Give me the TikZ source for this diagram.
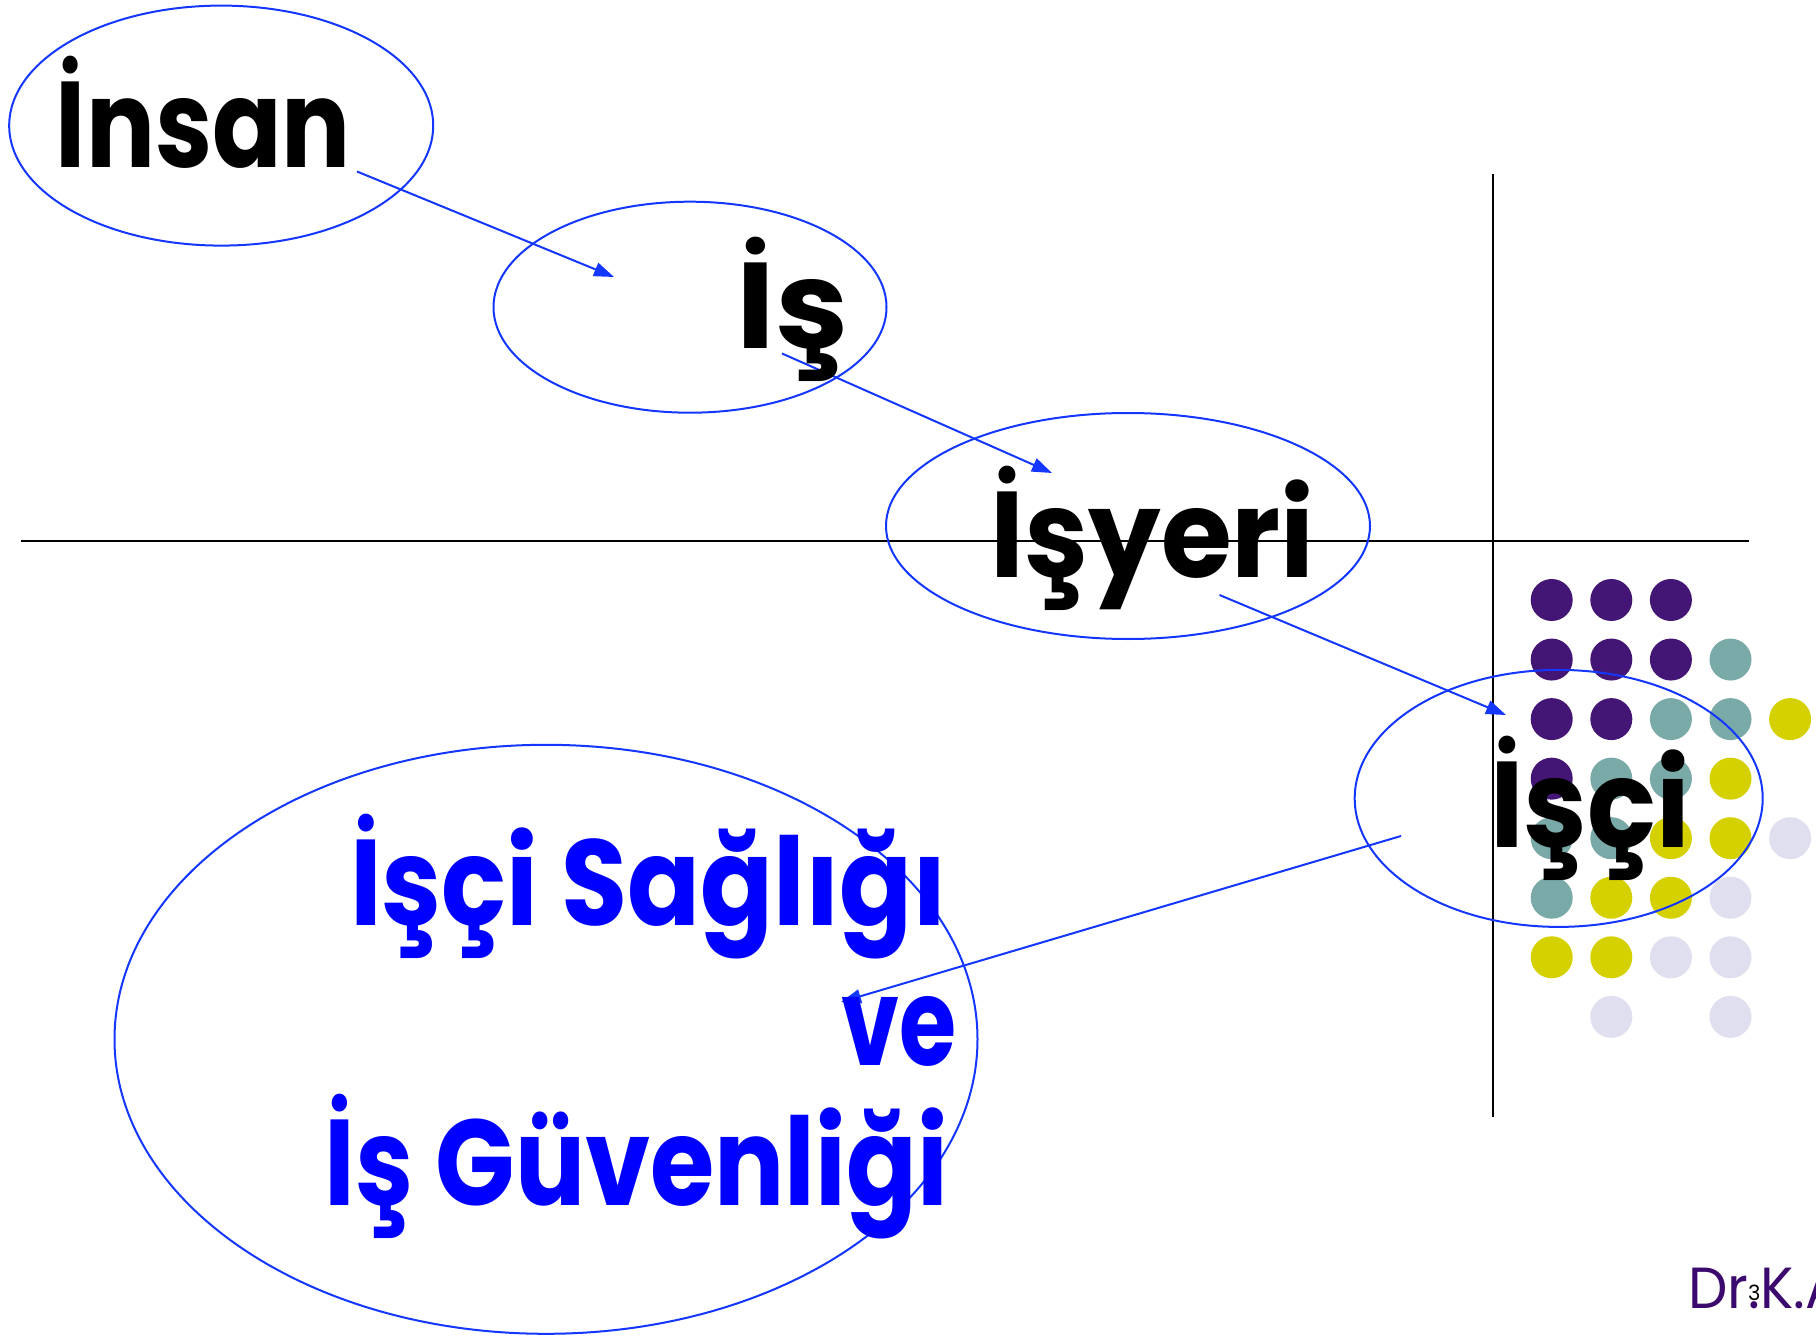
\documentclass[tikz,border=0pt]{standalone}
\usepackage{fontspec}
\setmainfont{Poppins}
\usetikzlibrary{shapes.geometric,arrows.meta}
\definecolor{eblue}{RGB}{20,55,255}
\definecolor{tblue}{RGB}{0,0,255}
\definecolor{dpurple}{RGB}{67,21,116}
\definecolor{dteal}{RGB}{122,170,168}
\definecolor{dyellow}{RGB}{213,209,0}
\definecolor{dlav}{RGB}{223,223,239}
\definecolor{sigpurple}{RGB}{60,10,110}
\tikzset{
  oval/.style={draw=eblue, line width=2pt, ellipse, inner sep=0pt},
  conn/.style={draw=eblue, line width=2pt, -{Triangle[length=20pt,width=14pt]}},
  axisline/.style={draw=black, line width=2pt},
  lbl/.style={inner sep=0pt, anchor=base west, text=black},
  blbl/.style={inner sep=0pt, anchor=base west, text=tblue},
  dotc/.style={circle, inner sep=0pt, minimum size=42pt},
}
\newcommand{\fittext}[2]{\resizebox{#1pt}{\height}{\fontsize{122}{140}\selectfont\bfseries #2}}
\begin{document}
\begin{tikzpicture}[x=1pt,y=-1pt]
\useasboundingbox (0,0) rectangle (1816,1337);
\fill[white] (0,0) rectangle (1816,1337);
% axes
\coordinate (h1) at (21,541);
\coordinate (h2) at (1749,541);
\coordinate (v1) at (1493,174);
\coordinate (v2) at (1493,1117);
\draw[axisline] (h1) -- (h2);
\draw[axisline] (v1) -- (v2);
% dots
\foreach \c/\r/\col in {
  0/0/dpurple,1/0/dpurple,2/0/dpurple,
  0/1/dpurple,1/1/dpurple,2/1/dpurple,3/1/dteal,
  0/2/dpurple,1/2/dpurple,2/2/dteal,3/2/dteal,4/2/dyellow,
  0/3/dpurple,1/3/dteal,2/3/dteal,3/3/dyellow,
  0/4/dteal,1/4/dteal,2/4/dyellow,3/4/dyellow,4/4/dlav,
  0/5/dteal,1/5/dyellow,2/5/dyellow,3/5/dlav,
  0/6/dyellow,1/6/dyellow,2/6/dlav,3/6/dlav,
  1/7/dlav,3/7/dlav}
  \node[dotc, fill=\col] (d\c\r) at ({1551.7+59.6*\c},{600+59.55*\r}) {};
% ellipses
\node[oval, minimum width=424pt, minimum height=240pt] (e1) at (221.2,125.6) {};
\node[oval, minimum width=393pt, minimum height=211pt] (e2) at (690,307.2) {};
\node[oval, minimum width=484pt, minimum height=226pt] (e3) at (1128,526) {};
\node[oval, minimum width=408pt, minimum height=257pt] (e4) at (1558.7,798.4) {};
\node[oval, minimum width=863pt, minimum height=589pt] (e5) at (546,1039.3) {};
% connectors
\coordinate (a1s) at (357,171.5);
\coordinate (a1e) at (614,277);
\coordinate (a2s) at (782,353.5);
\coordinate (a2e) at (1052,473);
\coordinate (a3s) at (1219.5,595);
\coordinate (a3e) at (1506,715);
\coordinate (a4s) at (1401,836);
\coordinate (a4e) at (841,1002);
\draw[conn] (a1s) -- (a1e);
\draw[conn] (a2s) -- (a2e);
\draw[conn] (a3s) -- (a3e);
\draw[conn] (a4s) -- (a4e);
% labels
\node[lbl] (t1) at (55.7,168) {\fittext{295}{İnsan}};
\node[lbl] (t2) at (736.5,349) {\fittext{112}{İş}};
\node[lbl] (t3) at (990.5,577) {\fittext{324}{İşyeri}};
\node[lbl] (t4) at (1490,847) {\fittext{200}{İşçi}};
\node[blbl] (b1) at (350,925) {\fittext{597}{İşçi Sağlığı}};
\node[blbl] (b2) at (841,1065) {\fittext{115}{ve}};
\node[blbl] (b3) at (324.5,1205) {\fittext{623}{İş Güvenliği}};
% signature
\node[inner sep=0pt, anchor=base west, text=sigpurple] (sig) at (1688,1308) {\scalebox{0.96}[1]{\fontsize{58}{60}\selectfont Dr.K.A}};
\node[inner sep=0pt, anchor=base west, text=black] (pg) at (1748,1300) {\fontsize{21}{24}\selectfont 3};
\end{tikzpicture}
\end{document}
